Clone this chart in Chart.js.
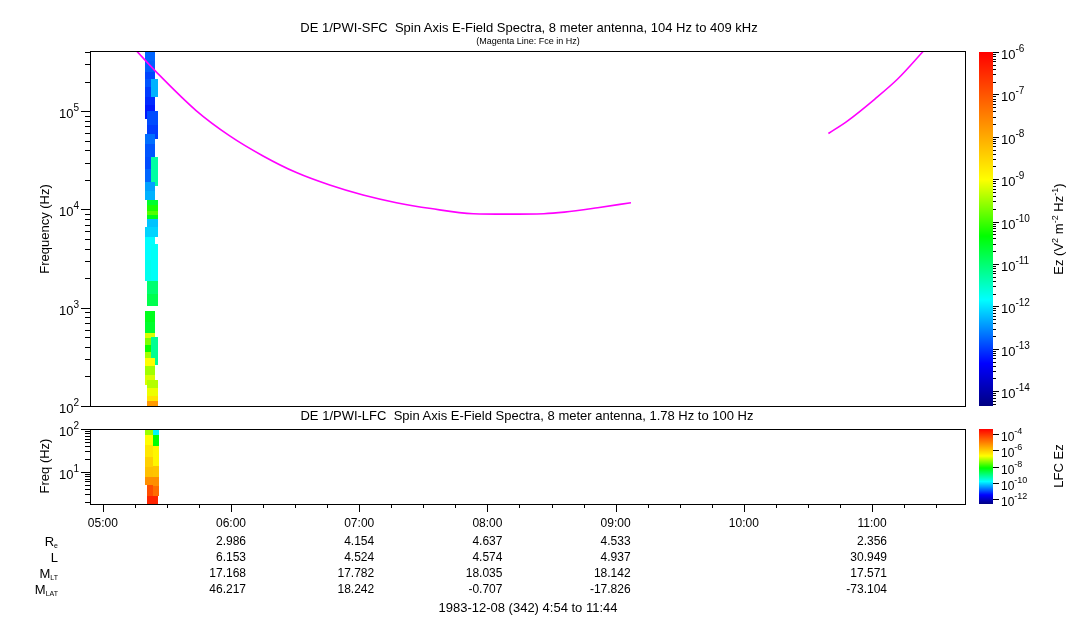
<!DOCTYPE html>
<html>
<head>
<meta charset="utf-8">
<script src="https://cdn.jsdelivr.net/npm/chart.js@4.4.0/dist/chart.umd.min.js"></script>
<style>
  body { margin: 0; background: #fff; font-family: "Liberation Sans", Arial, sans-serif; color: #000; }
  #wrap { position: relative; width: 1083px; height: 620px; overflow: hidden; }
  canvas { position: absolute; left: 0; top: 0; }
  .t { position: absolute; transform: translate(-50%, -50%); white-space: pre; line-height: 1; }
  .r { position: absolute; transform: translate(-50%, -50%) rotate(-90deg); white-space: pre; line-height: 1; }
  sup { font-size: 70%; vertical-align: 0.45em; line-height: 0; }
</style>
</head>
<body>
<div id="wrap">
  <canvas id="sfc" width="1083" height="620"></canvas>
  <canvas id="lfc" width="1083" height="620"></canvas>
  <canvas id="sfcBar" width="1083" height="620"></canvas>
  <canvas id="lfcBar" width="1083" height="620"></canvas>

  <div class="t" style="left:529px; top:27px; font-size:13px;">DE 1/PWI-SFC  Spin Axis E-Field Spectra, 8 meter antenna, 104 Hz to 409 kHz</div>
  <div class="t" style="left:528px; top:41px; font-size:9px;">(Magenta Line: Fce in Hz)</div>
  <div class="t" style="left:527px; top:415px; font-size:13px;">DE 1/PWI-LFC  Spin Axis E-Field Spectra, 8 meter antenna, 1.78 Hz to 100 Hz</div>
  <div class="r" style="left:44px; top:229px; font-size:13px;">Frequency (Hz)</div>
  <div class="r" style="left:44px; top:466px; font-size:13px;">Freq (Hz)</div>
  <div class="r" style="left:1058px; top:229px; font-size:13px;">Ez (V<sup>2</sup> m<sup>-2</sup> Hz<sup>-1</sup>)</div>
  <div class="r" style="left:1058px; top:466px; font-size:13px;">LFC Ez</div>
  <div class="t" style="left:528px; top:607px; font-size:13px;">1983-12-08 (342) 4:54 to 11:44</div>
</div>

<script>
// ---- time axis (decimal hours UT) ----
const tStart = 4.9;          // 4:54
const tEnd = 11 + 44 / 60;   // 11:44
const hourTicks = [5, 6, 7, 8, 9, 10, 11];
const hourLabels = ['05:00', '06:00', '07:00', '08:00', '09:00', '10:00', '11:00'];

// ---- ephemeris under the time axis (one value per hour tick) ----
const ephemRe   = [null, 2.986, 4.154, 4.637, 4.533, null, 2.356];
const ephemL    = [null, 6.153, 4.524, 4.574, 4.937, null, 30.949];
const ephemMLT  = [null, 17.168, 17.782, 18.035, 18.142, null, 17.571];
const ephemMLAT = [null, 46.217, 18.242, -0.707, -17.826, null, -73.104];

// ---- magenta line: electron gyrofrequency Fce (Hz) ----
const fceTime = [5.263, 5.42, 5.73, 5.99, 6.25, 6.51, 6.77, 7.03, 7.29, 7.56, 7.89, 8.15, 8.44, 8.60, 8.86, 9.12,
                 9.9,
                 10.66, 10.81, 11.02, 11.20, 11.40];
const fceHz   = [410000, 248000, 100700, 56000, 35000, 23700, 17700, 14000, 11700, 10200, 9040, 8950, 9040, 9380, 10400, 11700,
                 null,
                 59200, 79700, 132000, 212000, 406000];

// ---- SFC spectrogram (top panel), log10 Ez ----
const sfcFreqMin = 100, sfcFreqMax = 409000;
const sfcEzMin = -14.35, sfcEzMax = -6;
const sfcSweeps = [[5.328, 5.406], [5.344, 5.427], [5.375, 5.427], [5.328, 5.427]];
const sfcSweep = [0, 0, 0, 0, 0, 2, 0, 0, 1, 1, 0, 0, 0, 0, 2, 0, 0, 1, 1, 1, 1, 1, 3, 0, 0, 2, 1, 1,
                  0, 0, 0, 0, 0, 0, 2, 0, 0, 0, 1, 1, 1, 1];
const sfcLow  = [324000, 250000, 212000, 176000, 139000, 139000, 115000, 82800, 72000, 51800, 46100, 33900, 25600, 18900,
                 17200, 15300, 12600, 11000, 9550, 8690, 7900, 6550, 5180, 3090, 1890, 1890, 1390, 1050,
                 720, 556, 494, 419, 356, 309, 262, 256, 207, 164, 153, 126, 112, 100];
const sfcHigh = [409000, 324000, 250000, 212000, 176000, 212000, 139000, 115000, 100000, 72000, 58200, 46100, 33900, 25600,
                 33900, 18900, 15300, 12600, 11000, 9550, 8690, 7900, 6550, 5180, 3090, 4400, 1890, 1390,
                 931, 720, 556, 494, 419, 356, 506, 309, 256, 207, 184, 153, 126, 112];
const sfcLogEz = [-12.75, -12.8, -12.95, -12.85, -13.0, -12.3, -13.1, -13.2, -12.9, -13.0, -12.7, -12.85, -12.9, -12.75,
                  -11.3, -12.4, -12.3, -10.6, -10.2, -9.9, -10.5, -12.2, -12.1, -11.85, -11.75, -11.8, -11.0, -10.8,
                  -10.5, -10.6, -9.2, -9.7, -10.3, -9.5, -11.2, -9.0, -9.5, -9.2, -9.4, -9.1, -8.7, -7.8];

// ---- LFC spectrogram (bottom panel), log10 Ez ----
const lfcFreqMin = 1.78, lfcFreqMax = 100;
const lfcEzMin = -12.6, lfcEzMax = -3.4;
const lfcSweeps = [[5.328, 5.388], [5.388, 5.44], [5.344, 5.388], [5.344, 5.427], [5.388, 5.44]];
const lfcSweep = [0, 0, 0, 0, 0, 0, 2, 1, 1, 1, 1, 1, 3, 4];
const lfcLow   = [72.4, 42.4, 22.6, 13.2, 7.76, 4.95, 2.75, 72.4, 40.2, 13.7, 7.76, 4.7, 1.78, 2.75];
const lfcHigh  = [100, 72.4, 42.4, 22.6, 13.2, 7.76, 4.95, 100, 72.4, 40.2, 13.7, 7.76, 2.75, 4.7];
const lfcLogEz = [-7.3, -6.7, -6.4, -6.1, -5.9, -5.25, -4.4, -9.9, -8.2, -6.6, -5.95, -5.25, -3.85, -4.8];

// ---- rainbow colour table ----
const cmapPos = [0, 0.12, 0.30, 0.48, 0.64, 1];
const cmapRGB = [[0, 0, 130], [0, 0, 255], [0, 255, 255], [0, 255, 0], [255, 255, 0], [255, 0, 0]];

const FONT = '"Liberation Sans", Arial, sans-serif';

function rainbow(f) {
  f = Math.max(0, Math.min(1, f));
  for (let i = 1; i < cmapPos.length; i++) {
    if (f <= cmapPos[i]) {
      const u = (f - cmapPos[i - 1]) / (cmapPos[i] - cmapPos[i - 1]);
      const a = cmapRGB[i - 1], b = cmapRGB[i];
      return 'rgb(' + [0, 1, 2].map(k => Math.round(a[k] + (b[k] - a[k]) * u)).join(',') + ')';
    }
  }
  return 'rgb(255,0,0)';
}

// "10" with a raised exponent
function powLabel(ctx, exp, x, y, alignRight, big, small) {
  big = big || 13; small = small || 10;
  const s = String(exp);
  ctx.font = big + 'px ' + FONT;
  const w1 = ctx.measureText('10').width;
  ctx.font = small + 'px ' + FONT;
  const w2 = ctx.measureText(s).width;
  const x0 = alignRight ? x - w1 - w2 : x;
  ctx.textAlign = 'left';
  ctx.textBaseline = 'alphabetic';
  ctx.font = big + 'px ' + FONT;
  ctx.fillText('10', x0, y + 6);
  ctx.font = small + 'px ' + FONT;
  ctx.fillText(s, x0 + w1, y - 1);
}

function cellsPlugin(sweeps, sw, lo, hi, val, vmin, vmax) {
  return {
    id: 'cells',
    beforeDatasetsDraw(chart) {
      const { ctx, chartArea: a, scales: { x, y } } = chart;
      ctx.save();
      ctx.beginPath();
      ctx.rect(a.left, a.top, a.right - a.left, a.bottom - a.top);
      ctx.clip();
      for (let i = 0; i < val.length; i++) {
        const s = sweeps[sw[i]];
        const x0 = x.getPixelForValue(s[0]), x1 = x.getPixelForValue(s[1]);
        const y0 = y.getPixelForValue(hi[i]), y1 = y.getPixelForValue(lo[i]);
        ctx.fillStyle = rainbow((val[i] - vmin) / (vmax - vmin));
        ctx.fillRect(Math.round(x0), Math.round(y0), Math.round(x1) - Math.round(x0), Math.round(y1) - Math.round(y0));
      }
      ctx.restore();
    }
  };
}

// frame + log frequency ticks on the left
function frameLogPlugin(withTime) {
  return {
    id: 'frame',
    afterDraw(chart) {
      const { ctx, chartArea: a, scales: { x, y } } = chart;
      ctx.save();
      ctx.strokeStyle = '#000';
      ctx.fillStyle = '#000';
      ctx.lineWidth = 1;
      ctx.strokeRect(a.left + 0.5, a.top + 0.5, a.right - a.left - 1, a.bottom - a.top);
      ctx.beginPath();
      const lo = Math.floor(Math.log10(y.min)), hi = Math.ceil(Math.log10(y.max));
      const labels = [];
      for (let e = lo; e <= hi; e++) {
        for (let k = 1; k < 10; k++) {
          const v = k * Math.pow(10, e);
          if (v < y.min * 0.999 || v > y.max * 1.001) continue;
          const py = Math.round(y.getPixelForValue(v)) + 0.5;
          const len = k === 1 ? 9 : 5;
          ctx.moveTo(a.left - len, py);
          ctx.lineTo(a.left, py);
          if (k === 1) labels.push([e, py]);
        }
      }
      if (withTime) {
        for (let t = Math.ceil(x.min * 4) / 4; t <= x.max; t += 0.25) {
          const px = Math.round(x.getPixelForValue(t)) + 0.5;
          const major = Math.abs(t - Math.round(t)) < 1e-6;
          ctx.moveTo(px, a.bottom);
          ctx.lineTo(px, a.bottom + (major ? 8 : 4));
        }
      }
      ctx.stroke();
      labels.forEach(l => powLabel(ctx, l[0], a.left - 11, l[1], true, 13, 10));

      if (withTime) {
        ctx.font = '12px ' + FONT;
        ctx.textBaseline = 'middle';
        ctx.textAlign = 'center';
        hourTicks.forEach((h, i) => {
          const px = x.getPixelForValue(h);
          ctx.fillText(hourLabels[i], px, a.bottom + 20);
        });
        const rows = [ephemRe, ephemL, ephemMLT, ephemMLAT];
        const names = [['R', 'e'], ['L', ''], ['M', 'LT'], ['M', 'LAT']];
        rows.forEach((row, r) => {
          const py = a.bottom + 38 + r * 16;
          ctx.textAlign = 'right';
          ctx.font = '12px ' + FONT;
          hourTicks.forEach((h, i) => {
            if (row[i] === null) return;
            ctx.fillText(row[i].toFixed(3), x.getPixelForValue(h) + 15, py);
          });
          // row name with subscript
          ctx.font = '7px ' + FONT;
          const sw = ctx.measureText(names[r][1]).width;
          ctx.fillText(names[r][1], 58, py + 4);
          ctx.font = '13px ' + FONT;
          ctx.fillText(names[r][0], 58 - sw, py);
        });
      }
      ctx.restore();
    }
  };
}

function colorbarPlugin(stepMajor, withMinor, labelBig, labelSmall) {
  return {
    id: 'colorbar',
    afterDraw(chart) {
      const { ctx, chartArea: a, scales: { y } } = chart;
      ctx.save();
      for (let py = Math.floor(a.top); py < a.bottom; py++) {
        const v = y.getValueForPixel(py + 0.5);
        ctx.fillStyle = rainbow((v - y.min) / (y.max - y.min));
        ctx.fillRect(a.left, py, a.right - a.left, 1);
      }
      ctx.strokeStyle = '#000';
      ctx.fillStyle = '#000';
      ctx.lineWidth = 1;
      ctx.beginPath();
      const labels = [];
      for (let e = Math.floor(y.min); e <= Math.ceil(y.max); e++) {
        if (withMinor) {
          for (let k = 2; k < 10; k++) {
            const v = e + Math.log10(k);
            if (v < y.min || v > y.max) continue;
            const py = Math.round(y.getPixelForValue(v)) + 0.5;
            ctx.moveTo(a.right, py);
            ctx.lineTo(a.right + 3, py);
          }
        }
        if (e < y.min || e > y.max || e % stepMajor !== 0) continue;
        const py = Math.round(y.getPixelForValue(e)) + 0.5;
        ctx.moveTo(a.right, py);
        ctx.lineTo(a.right + 6, py);
        labels.push([e, py]);
      }
      ctx.stroke();
      labels.forEach(l => powLabel(ctx, l[0], a.right + 8, l[1], false, labelBig, labelSmall));
      ctx.restore();
    }
  };
}

const baseOpts = {
  responsive: false,
  animation: false,
  devicePixelRatio: 1,
  events: [],
  plugins: { legend: { display: false }, tooltip: { enabled: false } }
};

// top panel: SFC spectrogram + Fce line
new Chart(document.getElementById('sfc'), {
  type: 'line',
  data: {
    datasets: [{
      data: fceTime.map((t, i) => ({ x: t, y: fceHz[i] })),
      borderColor: '#ff00ff',
      borderWidth: 1.6,
      pointRadius: 0,
      fill: false,
      spanGaps: false,
      cubicInterpolationMode: 'monotone'
    }]
  },
  options: Object.assign({}, baseOpts, {
    layout: { padding: { left: 90, top: 51, right: 117, bottom: 214 } },
    scales: {
      x: { type: 'linear', display: false, min: tStart, max: tEnd },
      y: { type: 'logarithmic', display: false, min: sfcFreqMin, max: sfcFreqMax }
    }
  }),
  plugins: [cellsPlugin(sfcSweeps, sfcSweep, sfcLow, sfcHigh, sfcLogEz, sfcEzMin, sfcEzMax), frameLogPlugin(false)]
});

// bottom panel: LFC spectrogram + time axis + ephemeris
new Chart(document.getElementById('lfc'), {
  type: 'line',
  data: { datasets: [] },
  options: Object.assign({}, baseOpts, {
    layout: { padding: { left: 90, top: 429, right: 117, bottom: 116 } },
    scales: {
      x: { type: 'linear', display: false, min: tStart, max: tEnd },
      y: { type: 'logarithmic', display: false, min: lfcFreqMin, max: lfcFreqMax }
    }
  }),
  plugins: [cellsPlugin(lfcSweeps, lfcSweep, lfcLow, lfcHigh, lfcLogEz, lfcEzMin, lfcEzMax), frameLogPlugin(true)]
});

// colour bars
new Chart(document.getElementById('sfcBar'), {
  type: 'line',
  data: { datasets: [] },
  options: Object.assign({}, baseOpts, {
    layout: { padding: { left: 979, top: 52, right: 90, bottom: 214 } },
    scales: {
      x: { type: 'linear', display: false, min: 0, max: 1 },
      y: { type: 'linear', display: false, min: sfcEzMin, max: sfcEzMax }
    }
  }),
  plugins: [colorbarPlugin(1, true, 13, 10)]
});

new Chart(document.getElementById('lfcBar'), {
  type: 'line',
  data: { datasets: [] },
  options: Object.assign({}, baseOpts, {
    layout: { padding: { left: 979, top: 429, right: 90, bottom: 116 } },
    scales: {
      x: { type: 'linear', display: false, min: 0, max: 1 },
      y: { type: 'linear', display: false, min: lfcEzMin, max: lfcEzMax }
    }
  }),
  plugins: [colorbarPlugin(2, false, 12, 9)]
});
</script>
</body>
</html>
